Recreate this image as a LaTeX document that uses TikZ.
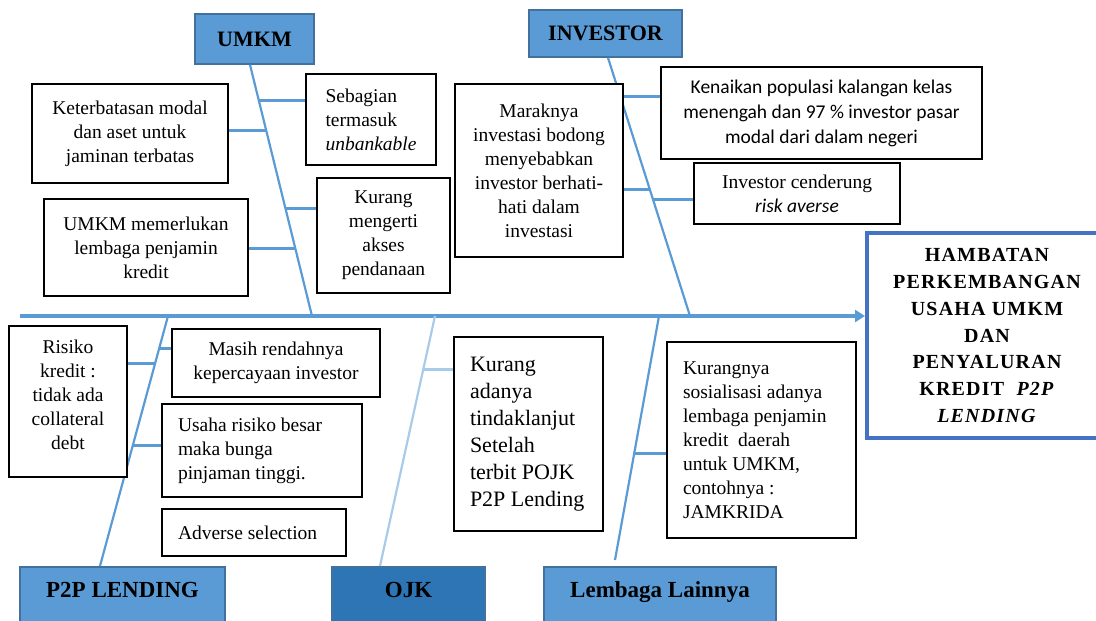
\documentclass[tikz,border=0pt]{standalone}
\usepackage{fontspec}
\setmainfont{Liberation Serif}
\newfontfamily\calibri{Carlito}
\newfontfamily\spacedserif[LetterSpace=6]{Liberation Serif}
\usetikzlibrary{arrows.meta,positioning,calc}
\definecolor{Bone}{HTML}{5B9BD5}
\definecolor{BoneLight}{HTML}{A9CBEA}
\definecolor{HeadLine}{HTML}{41719C}
\definecolor{OjkFill}{HTML}{2E75B6}
\definecolor{Frame}{HTML}{4472C4}

\tikzset{
  cause/.style={draw=black,line width=2pt,fill=white,inner sep=0pt,align=center,
    font=\fontsize{19.5}{24}\selectfont},
  head/.style={draw=HeadLine,line width=1.5pt,fill=Bone,inner sep=0pt,
    font=\fontsize{22}{26}\selectfont\bfseries},
  foot/.style={head,anchor=north,text height=31pt,text depth=40pt,
    font=\fontsize{23}{27}\selectfont\bfseries},
  bone/.style={Bone,line width=2.2pt},
  branch/.style={Bone,line width=3pt},
}

\begin{document}
\begin{tikzpicture}[x=1pt,y=-1pt]
  \useasboundingbox (0,0) rectangle (1096,621);

  % effect and the five categories
  \node[draw=Frame,line width=4pt,fill=white,minimum width=240pt,minimum height=205pt,
    inner sep=0pt,align=center,font=\spacedserif\fontsize{20}{26.8}\selectfont\bfseries] (effect) at (987,335.5)
    {HAMBATAN\\PERKEMBANGAN\\USAHA UMKM\\DAN\\PENYALURAN\\KREDIT\ \ \textit{P2P}\\\textit{LENDING}};
  \node[head,minimum width=119pt,minimum height=50pt] (umkm) at (254.5,39) {UMKM};
  \node[head,minimum width=153pt,minimum height=47pt] (investor) at (605.5,33.5) {INVESTOR};
  \node[foot,minimum width=205pt] (p2p) at (122.5,566) {P2P LENDING};
  \node[foot,fill=OjkFill,minimum width=153pt] (ojk) at (408.5,566) {OJK};
  \node[foot,minimum width=232pt] (lembaga) at (660,566) {Lembaga Lainnya};

  % spine
  \coordinate (tail) at (20,316);
  \draw[Bone,line width=4pt,-{Triangle[length=10pt,width=12pt]}] (tail) -- (tail -| effect.west);

  % bones
  \coordinate (uS) at (312,316);
  \coordinate (iS) at (690,316);
  \coordinate (pS) at (168,316);
  \coordinate (oS) at (435,316);
  \coordinate (lS) at (659,316);
  \draw[bone] ([xshift=-4.5pt]umkm.south) -- (uS);
  \draw[bone] ([xshift=2.5pt]investor.south) -- (iS);
  \draw[bone] (pS) -- ([xshift=-22.5pt]p2p.north);
  \draw[bone,BoneLight] (oS) -- ([xshift=-28.5pt]ojk.north);
  \draw[bone] (lS) -- ([xshift=-45pt,yshift=6pt]lembaga.north);

  % causes
  \node[cause,minimum width=196pt,minimum height=99pt] (keter) at (130,133.5)
    {Keterbatasan modal\\dan aset untuk\\jaminan terbatas};
  \node[cause,align=flush left,minimum width=130pt,minimum height=91pt] (sebag) at (371,119.5)
    {Sebagian\\termasuk\\\textit{unbankable}};
  \node[cause,minimum width=133pt,minimum height=115pt] (kurang) at (383.5,235.5)
    {Kurang\\mengerti\\akses\\pendanaan};
  \node[cause,minimum width=204pt,minimum height=97pt] (perlu) at (146,247.5)
    {UMKM memerlukan\\lembaga penjamin\\kredit};
  \node[cause,minimum width=168pt,minimum height=173pt] (marak) at (539,170.5)
    {Maraknya\\investasi bodong\\menyebabkan\\investor berhati-\\hati dalam\\investasi};
  \node[cause,minimum width=321pt,minimum height=92pt,font=\calibri\fontsize{19.5}{25}\selectfont] (naik) at (821.5,113)
    {Kenaikan populasi kalangan kelas\\menengah dan 97 \% investor pasar\\modal dari dalam negeri};
  \node[cause,minimum width=206pt,minimum height=61pt] (averse) at (797,193.5)
    {Investor cenderung\\{\calibri\itshape risk averse}};
  \node[cause,minimum width=118pt,minimum height=151pt] (risiko) at (68,401.5)
    {Risiko\\kredit :\\tidak ada\\collateral\\debt\\[-10pt]};
  \node[cause,minimum width=208pt,minimum height=68pt] (percaya) at (276,363)
    {Masih rendahnya\\kepercayaan investor};
  \node[cause,align=flush left,text width=168pt,minimum width=200pt,minimum height=93pt] (bunga) at (262,450.5)
    {Usaha risiko besar\\maka bunga\\pinjaman tinggi.};
  \node[cause,align=flush left,text width=152pt,minimum width=184pt,minimum height=47pt] (adverse) at (254,532.5)
    {Adverse selection};
  \node[cause,align=flush left,text width=117pt,minimum width=149pt,minimum height=194pt,
    font=\fontsize{22}{27}\selectfont] (pojk) at (528.5,434)
    {Kurang\\adanya\\tindaklanjut\\Setelah\\terbit POJK\\P2P~Lending};
  \node[cause,align=flush left,text width=157pt,minimum width=189pt,minimum height=196pt] (jamkrida) at (761.5,440)
    {Kurangnya\\sosialisasi adanya\\lembaga penjamin\\kredit\ \ daerah\\untuk UMKM,\\contohnya :\\JAMKRIDA};

  % branches
  \coordinate (u1) at (258.9,100);
  \coordinate (u2) at (266.2,130);
  \coordinate (u3) at (285.4,208);
  \coordinate (u4) at (295.3,248);
  \draw[branch] (u1) -- (u1 -| sebag.west);
  \draw[branch] (u2 -| keter.east) -- (u2);
  \draw[branch] (u3) -- (u3 -| kurang.west);
  \draw[branch] (u4 -| perlu.east) -- (u4);

  \coordinate (i1) at (620.3,96);
  \coordinate (i2) at (649.8,189);
  \coordinate (i3) at (653,199);
  \draw[branch] (i1 -| marak.east) -- (i1 -| naik.west);
  \draw[branch] (i2 -| marak.east) -- (i2);
  \draw[branch] (i3) -- (i3 -| averse.west);

  \coordinate (p1) at (159.3,348);
  \coordinate (p2) at (155.2,363);
  \coordinate (p3) at (132.9,445);
  \draw[branch] (p1) -- (p1 -| percaya.west);
  \draw[branch] (p2 -| risiko.east) -- (p2);
  \draw[branch] (p3) -- (p3 -| bunga.west);

  \coordinate (o1) at (423.3,369);
  \draw[branch,BoneLight] (o1) -- (o1 -| pojk.west);

  \coordinate (l1) at (634.9,453);
  \draw[branch] (l1) -- (l1 -| jamkrida.west);
\end{tikzpicture}
\end{document}
